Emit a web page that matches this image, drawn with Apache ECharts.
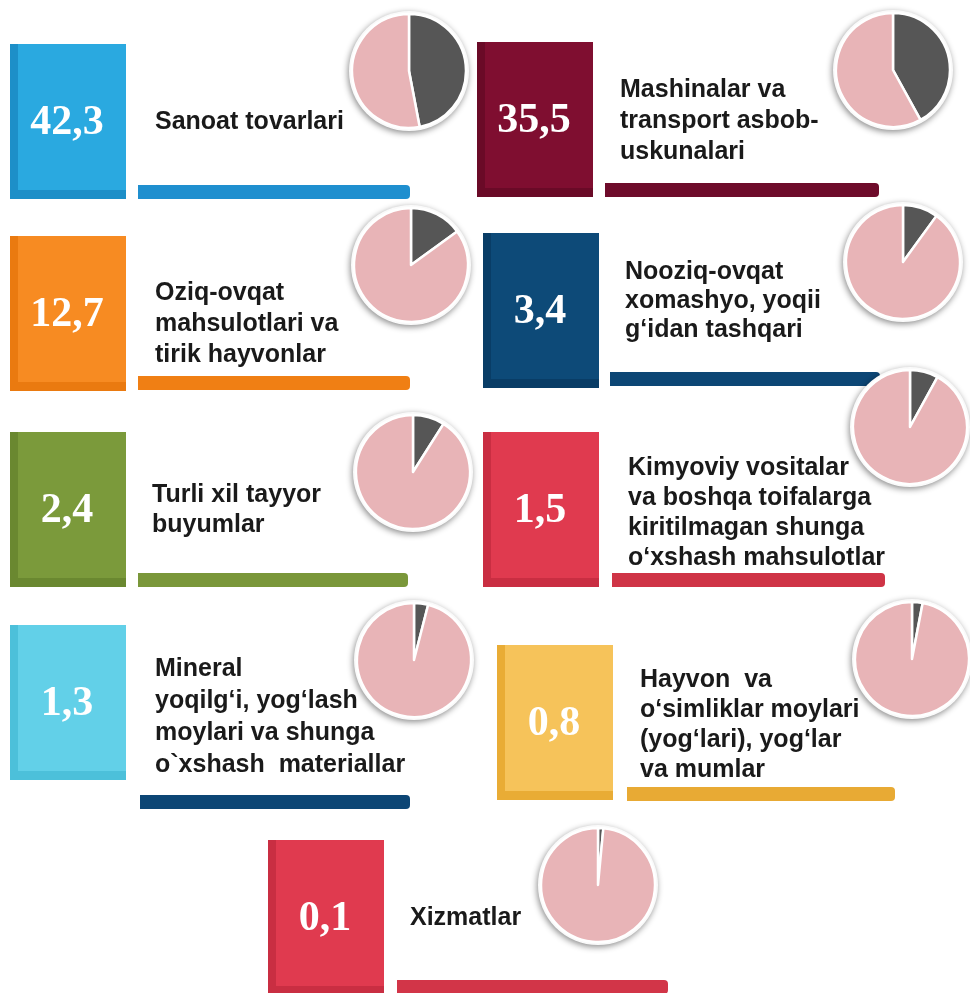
<!DOCTYPE html>
<html>
<head>
<meta charset="utf-8">
<script src="https://cdn.jsdelivr.net/npm/echarts@6/dist/echarts.min.js"></script>
<style>
  html, body { margin: 0; padding: 0; background: #fff; }
  #main { width: 970px; height: 993px; }
</style>
</head>
<body>
<div id="main"></div>
<script>
// labels of the groups
const categories = [
    'Sanoat tovarlari',
    'Mashinalar va\ntransport asbob-\nuskunalari',
    'Oziq-ovqat\nmahsulotlari va\ntirik hayvonlar',
    'Nooziq-ovqat\nxomashyo, yoqii\ng‘idan tashqari',
    'Turli xil tayyor\nbuyumlar',
    'Kimyoviy vositalar\nva boshqa toifalarga\nkiritilmagan shunga\no‘xshash mahsulotlar',
    'Mineral\nyoqilg‘i, yog‘lash\nmoylari va shunga\no`xshash  materiallar',
    'Hayvon  va\no‘simliklar moylari\n(yog‘lari), yog‘lar\nva mumlar',
    'Xizmatlar'
];
// share, %
const values = [42.3, 35.5, 12.7, 3.4, 2.4, 1.5, 1.3, 0.8, 0.1];
// dark slice of each small pie, as drawn in the picture
const pieShares = [47, 42, 15, 10, 9, 8, 4, 3, 1.5];

// colours: [box, box edge, underline]
const colors = [
    ['#2aa9e0', '#1d8fc8', '#1f8fcf'],
    ['#7f0e30', '#6a0a27', '#6e0b2a'],
    ['#f78b22', '#ea7a10', '#f07f14'],
    ['#0d4a78', '#093d66', '#0c4675'],
    ['#7b9a3b', '#6a8830', '#7a973a'],
    ['#e03a4f', '#c92e42', '#cf3446'],
    ['#62d0e8', '#4cc0da', '#0c4675'],
    ['#f6c35a', '#e9ac35', '#e8aa34'],
    ['#e03a4f', '#c92e42', '#d23548']
];

// layout: box x,y | text x, first line y, line height | bar x,y,w | pie cx,cy
const layout = [
    [10, 44, 155, 122, 31, 138, 185, 272, 409, 71],
    [477, 42, 620, 90, 31, 605, 183, 274, 893, 70],
    [10, 236, 155, 293, 31, 138, 376, 272, 411, 265],
    [483, 233, 625, 272, 29, 610, 372, 270, 903, 262],
    [10, 432, 152, 495, 30, 138, 573, 270, 413, 472],
    [483, 432, 628, 468, 30, 612, 573, 273, 910, 427],
    [10, 625, 155, 669, 32, 140, 795, 270, 414, 660],
    [497, 645, 640, 680, 30, 627, 787, 268, 912, 659],
    [268, 840, 410, 918, 30, 397, 980, 271, 598, 885]
];

const BOX_W = 116, BOX_H = 155, BAR_H = 14, PIE_R = 57;

let myChart = echarts.init(document.getElementById('main'));

let graphics = [];
let series = [];

categories.forEach(function (name, i) {
    let L = layout[i], c = colors[i];
    // box with darker left and bottom edge
    graphics.push({
        type: 'rect', shape: { x: L[0], y: L[1], width: BOX_W, height: BOX_H },
        style: { fill: c[1] }, z: 1
    });
    graphics.push({
        type: 'rect', shape: { x: L[0] + 8, y: L[1], width: BOX_W - 8, height: BOX_H - 9 },
        style: { fill: c[0] }, z: 2
    });
    graphics.push({
        type: 'text', x: L[0] + BOX_W / 2 - 1, y: L[1] + BOX_H / 2 + 2,
        style: {
            text: values[i].toFixed(1).replace('.', ','),
            fill: '#fff', font: 'bold 42px "Liberation Serif", serif',
            textAlign: 'center', textVerticalAlign: 'middle'
        }, z: 3
    });
    // label
    graphics.push({
        type: 'text', x: L[2], y: L[3] - L[4] / 2,
        style: {
            text: name, fill: '#1a1a1a',
            font: 'bold 25px "Liberation Sans", Arial, sans-serif',
            lineHeight: L[4], textAlign: 'left', textVerticalAlign: 'top'
        }, z: 3
    });
    // underline bar
    graphics.push({
        type: 'rect', shape: { x: L[5], y: L[6], width: L[7], height: BAR_H, r: [0, 4, 4, 0] },
        style: { fill: c[2] }, z: 1
    });

    // white disc with shadow behind the pie
    series.push({
        type: 'pie', silent: true, animation: false,
        center: [L[8], L[9]], radius: PIE_R + 3,
        label: { show: false }, labelLine: { show: false },
        itemStyle: {
            color: '#fafafa', shadowBlur: 6, shadowColor: 'rgba(0,0,0,0.45)',
            shadowOffsetX: -1, shadowOffsetY: 2
        },
        data: [{ value: 1 }], z: 4
    });
    series.push({
        type: 'pie', silent: true, animation: false,
        center: [L[8], L[9]], radius: PIE_R, startAngle: 90, clockwise: true,
        label: { show: false }, labelLine: { show: false },
        itemStyle: { borderColor: '#fff', borderWidth: 2.5 },
        data: [
            { value: pieShares[i], itemStyle: { color: '#565656' } },
            { value: 100 - pieShares[i], itemStyle: { color: '#e8b4b7' } }
        ], z: 5
    });
});

let option = {
    backgroundColor: '#fff',
    animation: false,
    graphic: graphics,
    series: series
};
myChart.setOption(option);
</script>
</body>
</html>
